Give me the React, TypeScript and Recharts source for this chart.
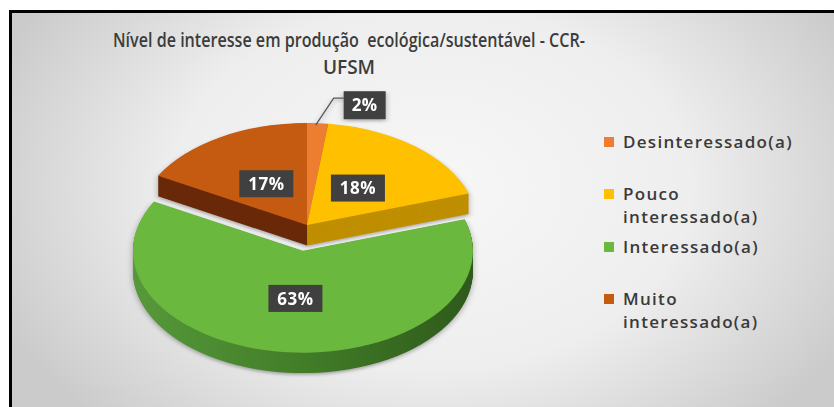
import React from 'react';
import { PieChart, Pie, Cell, Legend } from 'recharts';

// ---- data ----
const categories = ['Desinteressado(a)', 'Pouco interessado(a)', 'Interessado(a)', 'Muito interessado(a)'];
const values = [2, 18, 63, 17];
const topColors = ['#ED7D31', '#FFC000', '#6AB83E', '#C55A11'];
const sideColors = ['#A9521A', '#BF8F00', 'url(#greenSide)', '#6A2A0A'];
const titleLines = ['Nível de interesse em produção  ecológica/sustentável - CCR-', 'UFSM'];
const explodedIndex = 2;

const data = categories.map((name, i) => ({ name, value: values[i] }));

// ---- geometry / style ----
const SCALE_Y = 0.6;
const CX = 302;
const CY = 370;
const R = 170;
const DEPTH = 34;
const EXPLODE = 43;
const START = 90;
const END = -270;
const RAD = Math.PI / 180;

const total = values.reduce((a, b) => a + b, 0);
const before = values.slice(0, explodedIndex).reduce((a, b) => a + b, 0);
const explodeMid = START - (360 * (before + values[explodedIndex] / 2)) / total;
const EX = EXPLODE * Math.cos(explodeMid * RAD);
const EY = -EXPLODE * Math.sin(explodeMid * RAD);

const depths = Array.from({ length: DEPTH }, (_, i) => DEPTH - i);

const makeLabel = (only: (i: number) => boolean) => (p: any) => {
  const { cx, cy, midAngle, outerRadius, index, percent } = p;
  if (!only(index)) return null;
  const text = `${Math.round(percent * 100)}%`;
  const w = text.length * 12 + 18;
  const h = 27;
  const tStyle = {
    fontFamily: '"Open Sans", sans-serif',
    fontWeight: 700,
    fontSize: 17,
    fill: '#ffffff',
    letterSpacing: 0.5,
  } as React.CSSProperties;
  if (percent < 0.05) {
    const sx = cx + outerRadius * Math.cos(-midAngle * RAD);
    const sy = cy + outerRadius * Math.sin(-midAngle * RAD);
    return (
      <g transform={`translate(${sx},${sy}) scale(1,${1 / SCALE_Y})`}>
        <polyline points="-2,2 16,-25 26,-25" fill="none" stroke="#595959" strokeWidth={1.3} />
        <rect x={26} y={-32} width={w} height={28} fill="#404040" />
        <text x={26 + w / 2} y={-18} dy="0.36em" textAnchor="middle" style={tStyle}>{text}</text>
      </g>
    );
  }
  const r = outerRadius * 0.47;
  const x = cx + r * Math.cos(-midAngle * RAD);
  const y = cy + r * Math.sin(-midAngle * RAD);
  return (
    <g transform={`translate(${x},${y}) scale(1,${1 / SCALE_Y})`}>
      <rect x={-w / 2} y={-h / 2} width={w} height={h} fill="#404040" />
      <text x={0} y={0} dy="0.36em" textAnchor="middle" style={tStyle}>{text}</text>
    </g>
  );
};

const renderLegend = () => (
  <div
    style={{
      fontFamily: '"Open Sans", sans-serif',
      fontWeight: 600,
      fontSize: 17,
      color: '#3a3a3a',
      letterSpacing: 1.3,
      textAlign: 'left',
    }}
  >
    {categories.map((c, i) => (
      <div key={c} style={{ display: 'flex', height: 52.3, alignItems: 'flex-start' }}>
        <span
          style={{
            width: 10,
            height: 10,
            background: topColors[i],
            marginTop: 7,
            marginRight: 9,
            flex: '0 0 auto',
            display: 'inline-block',
          }}
        />
        <span style={{ lineHeight: '23px', width: 178 }}>{c}</span>
      </div>
    ))}
  </div>
);

export default function App() {
  return (
    <div style={{ position: 'absolute', left: 0, top: 0, width: 834, height: 407, overflow: 'hidden', background: '#ffffff' }}>
      <div
        style={{
          position: 'absolute',
          left: 9,
          top: 10,
          width: 840,
          height: 410,
          borderTop: '3px solid #000',
          borderLeft: '3px solid #000',
          background: 'radial-gradient(ellipse 470px 330px at 420px 175px, #f7f7f7 0%, #eeeeee 55%, #cbcbcb 100%)',
        }}
      />
      <svg width={834} height={90} style={{ position: 'absolute', left: 0, top: 0 }}>
        <text
          x={349}
          y={47}
          textAnchor="middle"
          textLength={472}
          lengthAdjust="spacingAndGlyphs"
          style={{ fontFamily: '"Open Sans", sans-serif', fontWeight: 600, fontSize: 19, fill: '#3c3c3c', whiteSpace: 'pre' }}
        >
          {titleLines[0]}
        </text>
        <text
          x={349}
          y={74}
          textAnchor="middle"
          style={{ fontFamily: '"Open Sans", sans-serif', fontWeight: 600, fontSize: 19, fill: '#3c3c3c' }}
        >
          {titleLines[1]}
        </text>
      </svg>
      <div
        style={{
          position: 'absolute',
          left: 0,
          top: 0,
          width: 600,
          height: 680,
          transform: `scaleY(${SCALE_Y})`,
          transformOrigin: '0 0',
          filter: 'drop-shadow(0px 3px 3px rgba(0,0,0,0.3))',
        }}
      >
        <PieChart width={600} height={680}>
          <defs>
            <linearGradient id="greenSide" gradientUnits="userSpaceOnUse" x1={CX - R} x2={CX + R} y1={0} y2={0}>
              <stop offset="0" stopColor="#56993A" />
              <stop offset="0.5" stopColor="#427D28" />
              <stop offset="1" stopColor="#2E5A1B" />
            </linearGradient>
          </defs>
          {depths.map((d) => (
            <Pie
              key={'ms' + d}
              data={data}
              dataKey="value"
              nameKey="name"
              cx={CX}
              cy={CY + d}
              outerRadius={R}
              startAngle={START}
              endAngle={END}
              isAnimationActive={false}
              stroke="none"
              legendType="none"
            >
              {data.map((e, i) => (
                <Cell key={i} fill={i === explodedIndex ? 'none' : sideColors[i]} stroke="none" />
              ))}
            </Pie>
          ))}
          <Pie
            data={data}
            dataKey="value"
            nameKey="name"
            cx={CX}
            cy={CY}
            outerRadius={R}
            startAngle={START}
            endAngle={END}
            isAnimationActive={false}
            stroke="none"
            legendType="none"
            labelLine={false}
            label={makeLabel((i) => i !== explodedIndex)}
          >
            {data.map((e, i) => (
              <Cell key={i} fill={i === explodedIndex ? 'none' : topColors[i]} stroke="none" />
            ))}
          </Pie>
          {depths.map((d) => (
            <Pie
              key={'gs' + d}
              data={data}
              dataKey="value"
              nameKey="name"
              cx={CX + EX}
              cy={CY + EY + d}
              outerRadius={R}
              startAngle={START}
              endAngle={END}
              isAnimationActive={false}
              stroke="none"
              legendType="none"
            >
              {data.map((e, i) => (
                <Cell key={i} fill={i === explodedIndex ? sideColors[i] : 'none'} stroke="none" />
              ))}
            </Pie>
          ))}
          <Pie
            data={data}
            dataKey="value"
            nameKey="name"
            cx={CX + EX}
            cy={CY + EY}
            outerRadius={R}
            startAngle={START}
            endAngle={END}
            isAnimationActive={false}
            stroke="none"
            legendType="none"
            labelLine={false}
            label={makeLabel((i) => i === explodedIndex)}
          >
            {data.map((e, i) => (
              <Cell key={i} fill={i === explodedIndex ? topColors[i] : 'none'} stroke="none" />
            ))}
          </Pie>
        </PieChart>
      </div>
      <div style={{ position: 'absolute', left: 0, top: 0 }}>
        <PieChart width={834} height={407}>
          <Pie
            data={data}
            dataKey="value"
            nameKey="name"
            cx={700}
            cy={390}
            outerRadius={0}
            isAnimationActive={false}
            stroke="none"
            legendType="square"
          >
            {data.map((e, i) => (
              <Cell key={i} fill={topColors[i]} />
            ))}
          </Pie>
          <Legend
            layout="vertical"
            align="left"
            verticalAlign="top"
            content={renderLegend}
            wrapperStyle={{ left: 604, top: 130, width: 215 }}
          />
        </PieChart>
      </div>
    </div>
  );
}
